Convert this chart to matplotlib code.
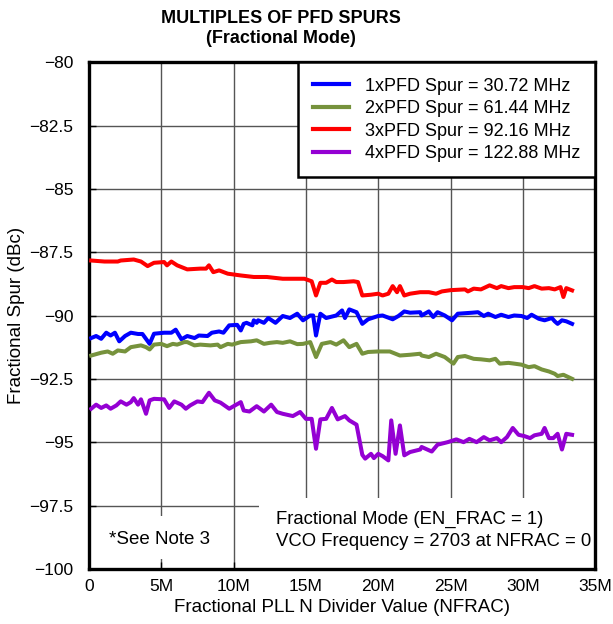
import matplotlib
matplotlib.use("Agg")
import matplotlib.pyplot as plt
from matplotlib.patches import Rectangle
from matplotlib.ticker import FuncFormatter, MultipleLocator

plt.rcParams['font.family'] = ['Liberation Sans', 'DejaVu Sans']

# NFRAC values in millions, spur levels in dBc
x_1x = [0.16, 0.5, 0.85, 1.2, 1.5, 1.8, 2.1, 2.5, 2.9, 3.4, 3.7, 4.2, 4.5, 5.2, 5.7, 6.0,
        6.4, 6.8, 7.3, 7.6, 8.2, 8.5, 9.0, 9.3, 9.7, 10.25, 10.5, 10.7, 10.9, 11.3, 11.4,
        11.6, 11.7, 12.1, 12.4, 12.9, 13.4, 13.9, 14.4, 14.8, 15.3, 15.5, 15.7, 16.0,
        16.4, 17.1, 17.5, 17.7, 18.0, 18.5, 18.9, 19.3, 20.0, 20.3, 21.0, 21.4, 21.8,
        22.2, 22.9, 23.0, 23.5, 23.8, 24.1, 24.6, 25.1, 25.5, 26.5, 26.9, 27.3, 27.6,
        28.1, 28.5, 29.0, 29.4, 29.9, 30.3, 30.6, 31.1, 31.5, 32.0, 32.2, 32.4, 32.7,
        33.0, 33.4]
spur_1x = [-90.88, -90.80, -90.91, -90.67, -90.78, -90.67, -91.01, -90.80, -90.67, -90.72,
           -90.72, -91.11, -90.71, -90.67, -90.67, -90.55, -90.93, -90.80, -90.88, -90.78,
           -90.80, -90.67, -90.62, -90.67, -90.38, -90.36, -90.58, -90.32, -90.28, -90.38,
           -90.18, -90.28, -90.18, -90.28, -90.09, -90.28, -90.01, -90.09, -89.92, -90.18,
           -89.99, -89.99, -90.78, -89.92, -90.09, -89.99, -89.79, -90.09, -89.75, -89.86,
           -90.32, -90.14, -90.01, -89.99, -90.14, -90.01, -89.83, -89.88, -89.86, -89.99,
           -89.83, -90.05, -89.86, -89.99, -90.18, -89.92, -89.88, -89.86, -90.01, -89.92,
           -90.05, -89.96, -90.05, -89.99, -90.01, -90.09, -89.96, -90.12, -90.18, -90.09,
           -90.22, -90.32, -90.18, -90.22, -90.32]

x_2x = [0.16, 0.85, 1.3, 1.65, 2.0, 2.5, 2.9, 3.6, 3.95, 4.2, 4.5, 5.0, 5.4, 5.8, 6.1, 6.6,
        6.8, 7.3, 7.7, 8.4, 8.9, 9.1, 9.6, 9.9, 10.5, 11.2, 11.6, 12.1, 12.5, 13.0, 13.4,
        13.9, 14.4, 14.8, 15.3, 15.7, 16.1, 16.7, 17.1, 17.6, 18.0, 18.5, 18.9, 19.3,
        20.0, 20.8, 21.5, 22.2, 22.9, 23.0, 23.5, 24.0, 24.6, 25.2, 25.5, 26.0, 26.6,
        27.1, 27.7, 28.1, 28.4, 29.0, 29.4, 29.9, 30.4, 30.8, 31.3, 31.8, 32.2, 32.4,
        32.8, 33.4]
spur_2x = [-91.57, -91.46, -91.41, -91.50, -91.37, -91.41, -91.24, -91.17, -91.24, -91.33,
           -91.14, -91.11, -91.20, -91.11, -91.14, -91.04, -91.04, -91.17, -91.14, -91.17,
           -91.14, -91.24, -91.11, -91.14, -91.04, -91.01, -90.97, -91.11, -91.07, -91.04,
           -91.07, -91.01, -91.12, -91.11, -91.04, -91.63, -91.11, -91.04, -91.14, -90.97,
           -91.24, -91.11, -91.50, -91.43, -91.41, -91.41, -91.57, -91.54, -91.50, -91.57,
           -91.63, -91.50, -91.63, -91.89, -91.63, -91.59, -91.70, -91.72, -91.76, -91.70,
           -91.89, -91.86, -91.89, -91.93, -92.03, -91.99, -92.12, -92.20, -92.29, -92.38,
           -92.33, -92.49]

x_3x = [0.16, 1.08, 2.0, 2.2, 3.1, 3.6, 4.06, 4.5, 5.2, 5.4, 5.7, 6.1, 6.8, 7.7, 8.1, 8.3,
        8.6, 9.0, 9.6, 10.5, 11.4, 12.3, 13.4, 14.6, 14.9, 15.4, 15.7, 16.0, 16.4, 16.8,
        17.1, 17.6, 18.3, 18.6, 18.9, 19.5, 20.0, 20.3, 20.7, 21.0, 21.3, 21.5, 21.8,
        22.2, 22.9, 23.5, 24.0, 24.4, 25.0, 26.0, 26.2, 26.6, 27.1, 27.7, 28.2, 28.5,
        29.0, 29.4, 30.0, 30.4, 30.8, 31.3, 31.8, 32.2, 32.6, 32.8, 33.0, 33.4]
spur_3x = [-87.82, -87.86, -87.86, -87.82, -87.78, -87.86, -88.04, -87.91, -87.88, -88.01,
           -87.86, -88.01, -88.17, -88.14, -88.14, -88.01, -88.28, -88.21, -88.34, -88.41,
           -88.47, -88.47, -88.54, -88.54, -88.54, -88.64, -89.20, -88.70, -88.70, -88.57,
           -88.67, -88.67, -88.64, -88.67, -89.20, -89.17, -89.13, -89.20, -89.13, -88.83,
           -89.07, -88.83, -89.20, -89.13, -89.07, -89.07, -89.13, -89.04, -88.99, -88.96,
           -89.04, -88.93, -88.96, -88.80, -88.91, -88.83, -88.91, -88.87, -88.87, -88.91,
           -88.83, -88.93, -88.91, -88.96, -88.87, -89.26, -88.91, -89.00]

x_4x = [0.16, 0.5, 0.85, 1.2, 1.5, 1.9, 2.2, 2.6, 2.9, 3.1, 3.4, 3.6, 3.95, 4.2, 4.5, 5.2,
        5.55, 5.9, 6.4, 6.7, 7.0, 7.5, 7.85, 8.3, 8.7, 9.1, 9.7, 10.1, 10.5, 10.7, 11.1,
        11.6, 12.1, 12.6, 13.0, 13.4, 14.1, 14.6, 15.0, 15.4, 15.7, 16.0, 16.4, 16.8,
        17.2, 17.7, 18.0, 18.5, 18.9, 19.1, 19.5, 19.7, 20.0, 20.3, 20.7, 20.9, 21.2,
        21.5, 21.8, 22.2, 22.9, 23.0, 23.7, 24.1, 24.8, 25.4, 25.9, 26.3, 26.8, 27.3,
        27.7, 28.2, 28.5, 28.9, 29.3, 29.7, 30.1, 30.5, 30.8, 31.3, 31.5, 31.8, 32.1,
        32.4, 32.7, 33.0, 33.4]
spur_4x = [-93.67, -93.51, -93.64, -93.54, -93.67, -93.54, -93.38, -93.51, -93.41, -93.25,
           -93.51, -93.30, -93.87, -93.34, -93.28, -93.30, -93.64, -93.38, -93.51, -93.67,
           -93.54, -93.38, -93.41, -93.04, -93.34, -93.43, -93.67, -93.54, -93.41, -93.74,
           -93.78, -93.57, -93.78, -93.51, -93.80, -93.87, -93.96, -93.80, -94.07, -94.07,
           -95.25, -94.09, -94.07, -93.64, -94.09, -93.96, -94.13, -94.30, -95.49, -95.64,
           -95.45, -95.62, -95.45, -95.54, -95.71, -94.13, -95.45, -94.33, -95.51, -95.38,
           -95.28, -95.18, -95.36, -95.09, -94.99, -94.88, -94.99, -94.86, -94.99, -94.79,
           -94.92, -94.83, -94.99, -94.79, -94.43, -94.70, -94.75, -94.83, -94.72, -94.66,
           -94.43, -94.83, -94.83, -94.66, -95.28, -94.66, -94.70]

labels = ['1xPFD Spur = 30.72 MHz', '2xPFD Spur = 61.44 MHz',
          '3xPFD Spur = 92.16 MHz', '4xPFD Spur = 122.88 MHz']
colors = ['#0000FF', '#76923C', '#FF0000', '#9400D3']

fig = plt.figure(figsize=(6.13, 6.24), dpi=100)
ax = fig.add_axes([0.145, 0.088, 0.826, 0.812])

series = [(x_1x, spur_1x), (x_2x, spur_2x), (x_3x, spur_3x), (x_4x, spur_4x)]
for (xs, ys), lab, col in zip(series, labels, colors):
    ax.plot(xs, ys, color=col, lw=2.9, label=lab, zorder=3)

ax.set_xlim(0, 35)
ax.set_ylim(-100, -80)
ax.xaxis.set_major_locator(MultipleLocator(5))
ax.yaxis.set_major_locator(MultipleLocator(2.5))
ax.xaxis.set_major_formatter(FuncFormatter(lambda v, p: '0' if v == 0 else f'{v:g}M'))
ax.yaxis.set_major_formatter(FuncFormatter(lambda v, p: f'{v:g}'.replace('-', '\u2212')))
ax.tick_params(direction='in', length=5, labelsize=12.5, width=1)
ax.tick_params(axis='y', pad=11)
ax.tick_params(axis='x', pad=7)
ax.grid(True, color='#555555', lw=1.0)
for s in ax.spines.values():
    s.set_linewidth(2.4)

# white boxes behind the notes hide the grid
ax.add_patch(Rectangle((0.4, -99.6), 9.4, 1.7, facecolor='white', edgecolor='none', zorder=1.8))
ax.add_patch(Rectangle((11.75, -100), 23.25, 2.8, facecolor='white', edgecolor='none', zorder=1.8))
ax.text(4.9, -98.85, '*See Note 3', ha='center', va='center', fontsize=13.5, zorder=4)
ax.text(12.95, -98.05, 'Fractional Mode (EN_FRAC = 1)', ha='left', va='center',
        fontsize=13.3, zorder=4, clip_on=True)
ax.text(12.95, -98.93, 'VCO Frequency = 2703 at NFRAC = 0', ha='left', va='center',
        fontsize=13.3, zorder=4, clip_on=True)

ax.set_xlabel('Fractional PLL N Divider Value (NFRAC)', fontsize=13.5, labelpad=4)
ax.set_ylabel('Fractional Spur (dBc)', fontsize=13.5, labelpad=3)

leg = ax.legend(loc='upper right', bbox_to_anchor=(1.0, 1.0), borderaxespad=0,
                fontsize=13, handlelength=2.0, handletextpad=0.85, labelspacing=0.3,
                borderpad=0.85, fancybox=False, framealpha=1)
leg.get_frame().set_edgecolor('black')
leg.get_frame().set_linewidth(1.8)
for h in leg.get_lines():
    h.set_linewidth(3)

fig.text(0.458, 0.971, 'MULTIPLES OF PFD SPURS', ha='center', va='center',
         fontsize=13, fontweight='bold')
fig.text(0.458, 0.938, '(Fractional Mode)', ha='center', va='center',
         fontsize=13, fontweight='bold')

fig.savefig('out.png', dpi=100)
